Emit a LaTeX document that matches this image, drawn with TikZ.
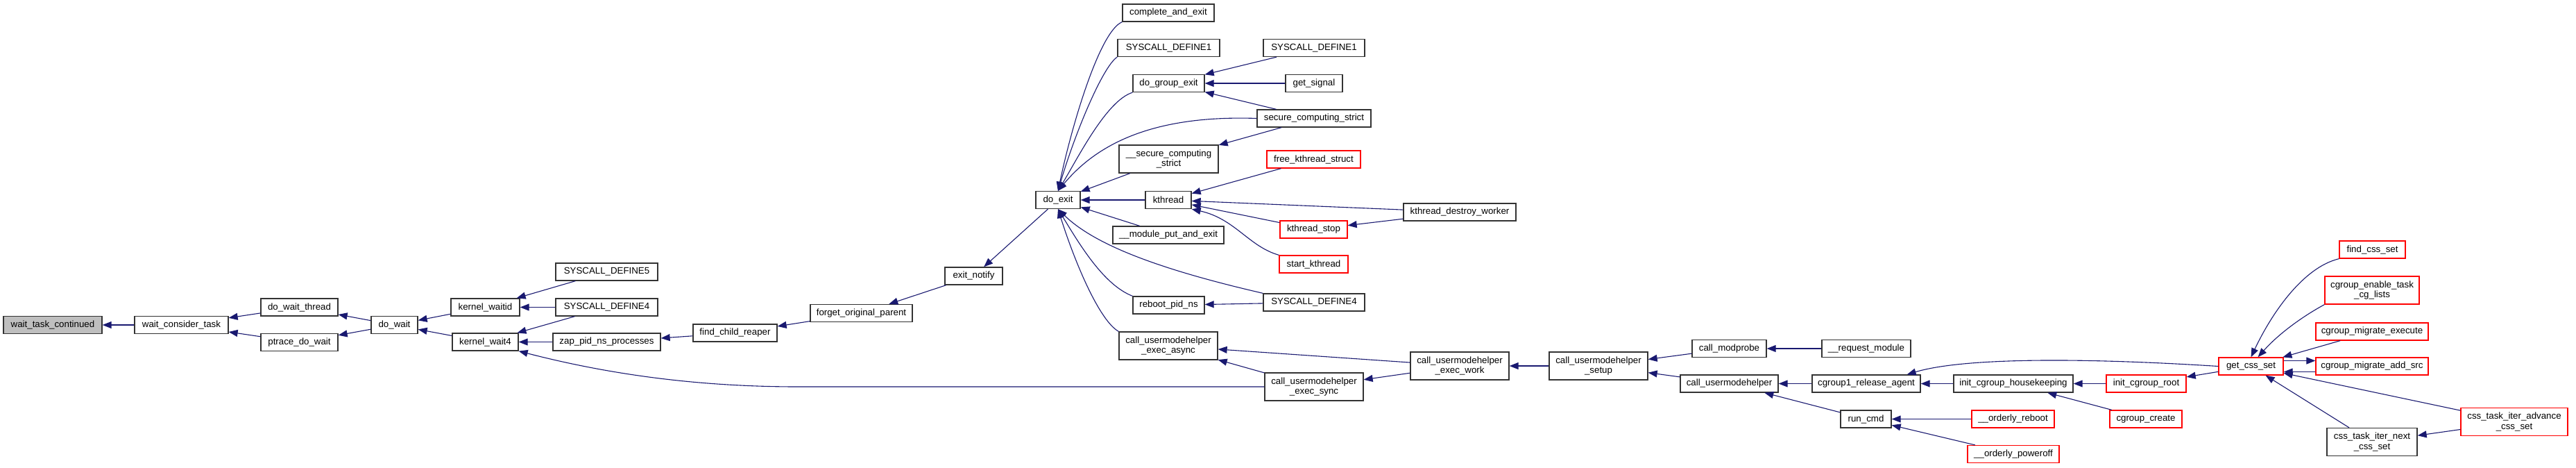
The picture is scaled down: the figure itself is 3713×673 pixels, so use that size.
\documentclass[tikz,border=0pt]{standalone}
\usepackage{fontspec}
\setmainfont{Liberation Sans}
\usepackage{xcolor}
\usetikzlibrary{arrows,shapes,positioning,fit,arrows.meta,backgrounds,calc}
\definecolor{edgeblue}{HTML}{191970}
\definecolor{rootgray}{HTML}{BFBFBF}

\begin{document}
\begin{tikzpicture}[x=1pt,y=-1pt,
  fn/.style={draw=black!80,line width=1.3pt,inner sep=0pt,minimum height=25pt,align=center,font=\fontsize{13.3}{14.6}\selectfont},
  fnred/.style={fn,draw=red},
  fnroot/.style={fn,fill=rootgray},
  two/.style={minimum height=40pt},
  call/.style={-{Triangle[length=13pt,width=10pt]},color=edgeblue,line width=1.1pt}]
\useasboundingbox (0,0) rectangle (3713,673);

\node[fnroot,minimum width=142pt] (wtc) at (76,468) {wait\_task\_continued};
\node[fn,minimum width=135pt] (wct) at (261.5,468) {wait\_consider\_task};
\node[fn,minimum width=111pt] (dwt) at (431.5,442.5) {do\_wait\_thread};
\node[fn,minimum width=111pt] (pdw) at (431.5,493) {ptrace\_do\_wait};
\node[fn,minimum width=67pt] (dw) at (568.5,468) {do\_wait};
\node[fn,minimum width=99pt] (kwid) at (699.5,442.5) {kernel\_waitid};
\node[fn,minimum width=95pt] (kw4) at (699.5,492.5) {kernel\_wait4};
\node[fn,minimum width=147pt] (sdf5) at (874.5,391.5) {SYSCALL\_DEFINE5};
\node[fn,minimum width=147pt] (sdf4a) at (874.5,442.5) {SYSCALL\_DEFINE4};
\node[fn,minimum width=155pt] (zap) at (874.5,492.5) {zap\_pid\_ns\_processes};
\node[fn,minimum width=121pt] (fcr) at (1059.5,479.5) {find\_child\_reaper};
\node[fn,minimum width=147pt] (fop) at (1241.5,451) {forget\_original\_parent};
\node[fn,minimum width=83pt] (exn) at (1403.5,397.5) {exit\_notify};
\node[fn,minimum width=64pt] (dex) at (1525,288) {do\_exit};

\node[fn,minimum width=132pt] (cae) at (1684,18.5) {complete\_and\_exit};
\node[fn,minimum width=147pt] (sdf1a) at (1684.5,69) {SYSCALL\_DEFINE1};
\node[fn,minimum width=103pt] (dge) at (1684.5,120) {do\_group\_exit};
\node[fn,two,minimum width=143pt] (uscs) at (1684.5,229) {\_\_secure\_computing\\\_strict};
\node[fn,minimum width=66pt] (kth) at (1684,288) {kthread};
\node[fn,minimum width=160pt] (mpe) at (1684,338.5) {\_\_module\_put\_and\_exit};
\node[fn,minimum width=103pt] (rpn) at (1684.5,439.5) {reboot\_pid\_ns};
\node[fn,two,minimum width=142pt] (cuea) at (1684,498) {call\_usermodehelper\\\_exec\_async};

\node[fn,minimum width=146pt] (sdf1b) at (1894,69) {SYSCALL\_DEFINE1};
\node[fn,minimum width=82pt] (gsig) at (1894,120) {get\_signal};
\node[fn,minimum width=164pt] (scs) at (1894,170.5) {secure\_computing\_strict};
\node[fnred,minimum width=135pt] (fks) at (1893.5,229.5) {free\_kthread\_struct};
\node[fnred,minimum width=97pt] (kts) at (1893.5,330.5) {kthread\_stop};
\node[fnred,minimum width=99pt] (stk) at (1893.5,380.5) {start\_kthread};
\node[fn,minimum width=146pt] (sdf4b) at (1894,435.5) {SYSCALL\_DEFINE4};
\node[fn,two,minimum width=142pt] (cues) at (1894,557) {call\_usermodehelper\\\_exec\_sync};
\node[fn,minimum width=162pt] (ktdw) at (2104,305.5) {kthread\_destroy\_worker};
\node[fn,two,minimum width=142pt] (cuew) at (2104,527) {call\_usermodehelper\\\_exec\_work};

\node[fn,two,minimum width=142pt] (cusu) at (2304,527) {call\_usermodehelper\\\_setup};
\node[fn,minimum width=107pt] (cmp) at (2492.5,502) {call\_modprobe};
\node[fn,minimum width=141pt] (cuh) at (2492.5,552.5) {call\_usermodehelper};
\node[fn,minimum width=128pt] (rqm) at (2690,502) {\_\_request\_module};
\node[fn,minimum width=156pt] (cra) at (2690,552.5) {cgroup1\_release\_agent};
\node[fn,minimum width=73pt] (rcmd) at (2689.5,603.5) {run\_cmd};
\node[fn,minimum width=172pt] (ich) at (2902,552.5) {init\_cgroup\_housekeeping};
\node[fnred,minimum width=119pt] (oreb) at (2901.5,603.5) {\_\_orderly\_reboot};
\node[fnred,minimum width=132pt] (opow) at (2902,654) {\_\_orderly\_poweroff};
\node[fnred,minimum width=115pt] (icr) at (3093.5,552.5) {init\_cgroup\_root};
\node[fnred,minimum width=104pt] (ccr) at (3093,603.5) {cgroup\_create};
\node[fnred,minimum width=93pt] (gcs) at (3244.5,527.5) {get\_css\_set};

\node[fnred,minimum width=95pt] (fcs) at (3419.5,359.5) {find\_css\_set};
\node[fnred,two,minimum width=136pt] (cetc) at (3419,418) {cgroup\_enable\_task\\\_cg\_lists};
\node[fnred,minimum width=162pt] (cme) at (3419,477.5) {cgroup\_migrate\_execute};
\node[fnred,minimum width=162pt] (cmas) at (3419,527.5) {cgroup\_migrate\_add\_src};
\node[fn,two,minimum width=130pt] (ctin) at (3419,636.5) {css\_task\_iter\_next\\\_css\_set};
\node[fnred,two,minimum width=154pt] (ctia) at (3624,607.5) {css\_task\_iter\_advance\\\_css\_set};

\draw[call] (wct) -- (wtc);
\draw[call] (dwt) -- (wct);
\draw[call] (pdw) -- (wct);
\draw[call] (dw) -- (dwt);
\draw[call] (dw) -- (pdw);
\draw[call] (kwid) -- (dw);
\draw[call] (kw4) -- (dw);
\draw[call] (sdf5) -- (kwid);
\draw[call] (sdf4a) -- (kwid);
\draw[call] (sdf4a) -- (kw4);
\draw[call] (zap) -- (kw4);
\draw[call] (cues.west) -- (1150,557) .. controls (980,557) and (850,532) .. (kw4.south east);
\draw[call] (fcr) -- (zap);
\draw[call] (fop) -- (fcr);
\draw[call] (exn) -- (fop);
\draw[call] (dex) -- (exn);

\draw[call] (cae.south west) .. controls (1585,45) and (1545,180) .. (dex.north);
\draw[call] (sdf1a.south west) .. controls (1590,95) and (1550,190) .. (dex.north);
\draw[call] (dge.south west) .. controls (1595,145) and (1555,225) .. (dex.north);
\draw[call] (scs.west) .. controls (1650,165) and (1575,215) .. (dex.north);
\draw[call] (uscs) -- (dex);
\draw[call] (kth) -- (dex);
\draw[call] (mpe) -- (dex);
\draw[call] (sdf4b.north west) .. controls (1680,390) and (1580,355) .. (dex.south);
\draw[call] (rpn.north west) .. controls (1590,410) and (1555,350) .. (dex.south);
\draw[call] (cuea.north west) .. controls (1585,462) and (1550,380) .. (dex.south);

\draw[call] (sdf1b) -- (dge);
\draw[call] (gsig) -- (dge);
\draw[call] (scs) -- (dge);
\draw[call] (scs) -- (uscs);
\draw[call] (fks) -- (kth);
\draw[call] (ktdw) -- (kth);
\draw[call] (kts) -- (kth);
\draw[call] (stk.north west) .. controls (1800,355) and (1780,315) .. (kth.south east);
\draw[call] (ktdw) -- (kts);
\draw[call] (sdf4b) -- (rpn);
\draw[call] (cuew) -- (cuea);
\draw[call] (cues) -- (cuea);
\draw[call] (cuew) -- (cues);
\draw[call] (cusu) -- (cuew);

\draw[call] (cmp) -- (cusu);
\draw[call] (cuh) -- (cusu);
\draw[call] (rqm) -- (cmp);
\draw[call] (cra) -- (cuh);
\draw[call] (rcmd) -- (cuh);
\draw[call] (gcs.west) .. controls (3000,515) and (2830,515) .. ([xshift=-20pt]cra.north east);
\draw[call] (ich) -- (cra);
\draw[call] (oreb) -- (rcmd);
\draw[call] (opow) -- (rcmd);
\draw[call] (icr) -- (ich);
\draw[call] (ccr) -- (ich);
\draw[call] (gcs) -- (icr);

\draw[call] (fcs.south west) .. controls (3320,385) and (3275,450) .. (gcs.north);
\draw[call] (cetc.south west) .. controls (3320,455) and (3285,480) .. ([xshift=10pt]gcs.north);
\draw[call] (cme) -- (gcs);
\draw[call] ([yshift=8pt]gcs.east) -- ([yshift=8pt]cmas.west);
\draw[call] ([yshift=-8pt]cmas.west) -- ([yshift=-8pt]gcs.east);
\draw[call] (ctia) -- (gcs);
\draw[call] (ctin) -- (gcs);
\draw[call] (ctia) -- (ctin);
\end{tikzpicture}
\end{document}
